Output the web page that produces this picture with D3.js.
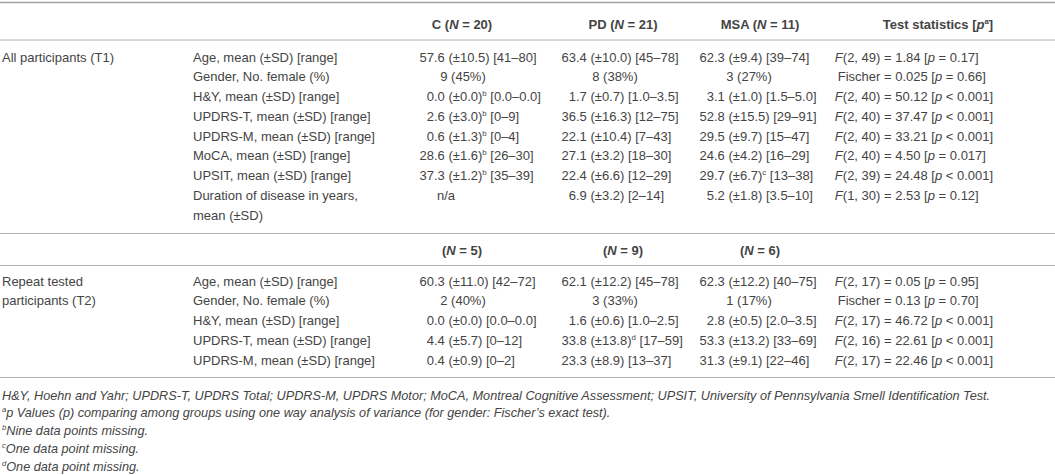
<!DOCTYPE html>
<html>
<head>
<meta charset="utf-8">
<script src="https://cdn.jsdelivr.net/npm/d3@7"></script>
<style>
  html, body { margin: 0; padding: 0; background: #fff; }
  svg text { font-family: "Liberation Sans", Arial, sans-serif; fill: #444; }
</style>
</head>
<body>
<div id="container"></div>
<script>
// Table content (markup: *italic*, ^x superscript, | line break)
const headers = ["C (*N* = 20)", "PD (*N* = 21)", "MSA (*N* = 11)", "Test statistics [*p*^a]"];
const subHeaders = ["(*N* = 5)", "(*N* = 9)", "(*N* = 6)"];
const groups = [["All participants (T1)"], ["Repeat tested", "participants (T2)"]];

const t1Vars = ["Age, mean (±SD) [range]", "Gender, No. female (%)", "H&Y, mean (±SD) [range]",
  "UPDRS-T, mean (±SD) [range]", "UPDRS-M, mean (±SD) [range]", "MoCA, mean (±SD) [range]",
  "UPSIT, mean (±SD) [range]", "Duration of disease in years,|mean (±SD)"];
const t1C = ["57.6 (±10.5) [41–80]", "9 (45%)", "0.0 (±0.0)^b [0.0–0.0]", "2.6 (±3.0)^b [0–9]",
  "0.6 (±1.3)^b [0–4]", "28.6 (±1.6)^b [26–30]", "37.3 (±1.2)^b [35–39]", "n/a"];
const t1PD = ["63.4 (±10.0) [45–78]", "8 (38%)", "1.7 (±0.7) [1.0–3.5]", "36.5 (±16.3) [12–75]",
  "22.1 (±10.4) [7–43]", "27.1 (±3.2) [18–30]", "22.4 (±6.6) [12–29]", "6.9 (±3.2) [2–14]"];
const t1MSA = ["62.3 (±9.4) [39–74]", "3 (27%)", "3.1 (±1.0) [1.5–5.0]", "52.8 (±15.5) [29–91]",
  "29.5 (±9.7) [15–47]", "24.6 (±4.2) [16–29]", "29.7 (±6.7)^c [13–38]", "5.2 (±1.8) [3.5–10]"];
const t1Stats = ["*F*(2, 49) = 1.84 [*p* = 0.17]", "Fischer = 0.025 [*p* = 0.66]",
  "*F*(2, 40) = 50.12 [*p* < 0.001]", "*F*(2, 40) = 37.47 [*p* < 0.001]",
  "*F*(2, 40) = 33.21 [*p* < 0.001]", "*F*(2, 40) = 4.50 [*p* = 0.017]",
  "*F*(2, 39) = 24.48 [*p* < 0.001]", "*F*(1, 30) = 2.53 [*p* = 0.12]"];

const t2Vars = ["Age, mean (±SD) [range]", "Gender, No. female (%)", "H&Y, mean (±SD) [range]",
  "UPDRS-T, mean (±SD) [range]", "UPDRS-M, mean (±SD) [range]"];
const t2C = ["60.3 (±11.0) [42–72]", "2 (40%)", "0.0 (±0.0) [0.0–0.0]", "4.4 (±5.7) [0–12]", "0.4 (±0.9) [0–2]"];
const t2PD = ["62.1 (±12.2) [45–78]", "3 (33%)", "1.6 (±0.6) [1.0–2.5]", "33.8 (±13.8)^d [17–59]", "23.3 (±8.9) [13–37]"];
const t2MSA = ["62.3 (±12.2) [40–75]", "1 (17%)", "2.8 (±0.5) [2.0–3.5]", "53.3 (±13.2) [33–69]", "31.3 (±9.1) [22–46]"];
const t2Stats = ["*F*(2, 17) = 0.05 [*p* = 0.95]", "Fischer = 0.13 [*p* = 0.70]",
  "*F*(2, 17) = 46.72 [*p* < 0.001]", "*F*(2, 16) = 22.61 [*p* < 0.001]", "*F*(2, 17) = 22.46 [*p* < 0.001]"];

const notes = [
  "H&Y, Hoehn and Yahr; UPDRS-T, UPDRS Total; UPDRS-M, UPDRS Motor; MoCA, Montreal Cognitive Assessment; UPSIT, University of Pennsylvania Smell Identification Test.",
  "^ap Values (p) comparing among groups using one way analysis of variance (for gender: Fischer’s exact test).",
  "^bNine data points missing.",
  "^cOne data point missing.",
  "^dOne data point missing."
];

// Layout
const width = 1055, height = 475;
const fontSize = 13;
const noteSize = 12.7;
const rowH = 19.75;
const colX = { group: 2, variable: 193, stats: 884 };
const headCenter = [462, 623, 760, 938];
const decimalX = [434, 576, 714];          // decimal-point anchors of the value columns
const genderX = [463, 615, 749];           // centred counts
const naX = 446;
const ruleColor = "#b4b4b4";

const svg = d3.select("#container")
  .append("svg")
  .attr("width", width)
  .attr("height", height)
  .attr("font-size", fontSize);

// Write markup into a text element
function rich(sel, str, size = fontSize) {
  const parts = str.split(/(\*[^*]+\*|\^[a-z])/).filter(s => s.length);
  let raised = false;
  parts.forEach(p => {
    const t = sel.append("tspan");
    if (p[0] === "^") {
      t.text(p.slice(1)).attr("font-size", size * 0.6).attr("dy", -size * 0.38);
      raised = true;
    } else {
      if (raised) { t.attr("dy", size * 0.38); raised = false; }
      if (p[0] === "*") t.text(p.slice(1, -1)).attr("font-style", "italic");
      else t.text(p);
    }
  });
  return sel;
}

function label(x, y, str, anchor = "start", size = fontSize) {
  return rich(svg.append("text")
    .attr("x", x).attr("y", y)
    .attr("font-size", size)
    .attr("text-anchor", anchor), str, size);
}

function rule(y, w = 1, color = ruleColor) {
  svg.append("line")
    .attr("x1", 0).attr("x2", width)
    .attr("y1", y).attr("y2", y)
    .attr("stroke", color).attr("stroke-width", w);
}

// Value cell aligned on the decimal point of its leading number
function valueCell(col, y, str, rowIdx) {
  if (str === "n/a") return label(naX, y, str, "middle");
  if (rowIdx === 1) return label(genderX[col], y, str, "middle");
  const m = str.match(/^(\d+)(.*)$/);
  label(decimalX[col], y, m[1], "end");
  label(decimalX[col], y, m[2], "start");
}

// Stats cell aligned on the first "=" (non-breaking space keeps the gap)
function statCell(y, str) {
  const i = str.indexOf(" = ");
  label(colX.stats, y, str.slice(0, i) + "\u00A0", "end");
  label(colX.stats, y, str.slice(i + 1), "start");
}

// One block of rows; y0 is the first text baseline
function block(y0, group, vars, cols, stats) {
  const y = d3.scaleLinear().domain([0, 1]).range([y0, y0 + rowH]);
  group.forEach((g, i) => label(colX.group, y(i), g));
  let line = 0;
  vars.forEach((v, r) => {
    const lines = v.split("|");
    lines.forEach((l, k) => label(colX.variable, y(line + k), l));
    cols.forEach((c, ci) => valueCell(ci, y(line), c[r], r));
    statCell(y(line), stats[r]);
    line += lines.length;
  });
  return y(line - 1);
}

// Header
rule(2.5, 1.5, "#a0a0a0");
headers.forEach((h, i) => label(headCenter[i], 29, h, "middle").attr("font-weight", "bold"));
rule(40);

// Block T1
const endT1 = block(61.5, groups[0], t1Vars, [t1C, t1PD, t1MSA], t1Stats);
const r1 = endT1 + 14;
rule(r1);
subHeaders.forEach((h, i) => label(headCenter[i], r1 + 21.5, h, "middle").attr("font-weight", "bold"));
rule(r1 + 32);

// Block T2
const endT2 = block(r1 + 52, groups[1], t2Vars, [t2C, t2PD, t2MSA], t2Stats);
const r3 = endT2 + 13;
rule(r3);

// Footnotes
const yNote = d3.scaleLinear().domain([0, 1]).range([r3 + 22, r3 + 22 + 17.75]);
notes.forEach((n, i) => label(colX.group, yNote(i), n, "start", noteSize).attr("font-style", "italic"));
</script>
</body>
</html>
